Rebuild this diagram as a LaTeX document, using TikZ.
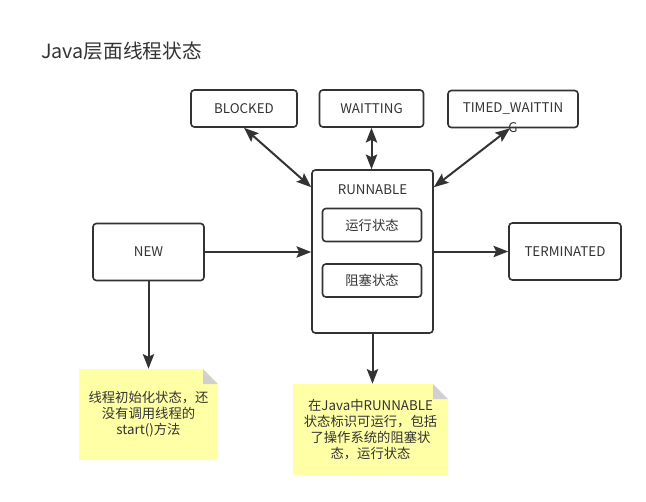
\documentclass[tikz,border=0pt]{standalone}
\usepackage{fontspec}
\setmainfont{Noto Sans CJK SC}
\usetikzlibrary{arrows.meta}
\definecolor{mydarkgray}{RGB}{51,51,51}
\definecolor{mynoteyellow}{RGB}{255,255,166}
\definecolor{myfoldgray}{RGB}{208,208,208}
\newcommand{\pxu}{0.75pt}
\newcommand{\foldsize}{11.25pt}
\tikzset{
    common/.style={draw=mydarkgray, line width=1.2pt, rounded corners=2.5pt, text=mydarkgray,
        font=\fontsize{10}{12}\selectfont, inner sep=0pt},
    state/.style={common, minimum width=#1*\pxu, minimum height=37*\pxu},
    bigstate/.style={common, minimum width=111*\pxu, minimum height=57*\pxu},
    sub/.style={common, minimum width=99*\pxu, minimum height=33*\pxu},
    note/.style={text=mydarkgray, font=\fontsize{10}{12}\selectfont, align=center,
        inner sep=0pt, minimum width=#1*\pxu, minimum height=91*\pxu,
        path picture={
            \fill[mynoteyellow]
                (path picture bounding box.north west)
                -- ([xshift=-\foldsize]path picture bounding box.north east)
                -- ([yshift=-\foldsize]path picture bounding box.north east)
                -- (path picture bounding box.south east)
                -- (path picture bounding box.south west) -- cycle;
            \fill[myfoldgray]
                ([xshift=-\foldsize]path picture bounding box.north east)
                -- ([xshift=-\foldsize, yshift=-\foldsize]path picture bounding box.north east)
                -- ([yshift=-\foldsize]path picture bounding box.north east) -- cycle;
        }
    },
    link/.style={draw=mydarkgray, line width=1.5pt, -{Stealth[length=11pt, width=8.5pt, inset=2pt]}},
    duallink/.style={link, {Stealth[length=11pt, width=8.5pt, inset=2pt]}-{Stealth[length=11pt, width=8.5pt, inset=2pt]}}
}
\begin{document}
\begin{tikzpicture}[x=0.75pt, y=-0.75pt]
        \useasboundingbox (0,0) rectangle (646,501);

        \node[anchor=west, inner sep=0pt, text=mydarkgray, font=\fontsize{14.75}{16}\selectfont] (TITLE) at (41,51) {Java层面线程状态};

        \node[state=106] (BLOCKED) at (244,108.5) {BLOCKED};
        \node[state=104] (WAIT) at (371.5,108.5) {WAITTING};
        \node[state=130, label={[anchor=center, inner sep=0pt, text=mydarkgray, font=\fontsize{10}{12}\selectfont, yshift=0.5pt]south:G}] (TIMED) at (513,109) {TIMED\_WAITTIN};

        \node[common, minimum width=121*\pxu, minimum height=163*\pxu,
            label={[anchor=center, yshift=-15pt, text=mydarkgray, font=\fontsize{10}{12}\selectfont]north:RUNNABLE}] (RUNNABLE) at (372.5,251.5) {};
        \node[sub] (RUNNING) at (372,225) {运行状态};
        \node[sub] (BLOCKING) at (372,280.5) {阻塞状态};

        \node[bigstate] (NEW) at (148.5,252) {NEW};
        \node[bigstate, minimum width=112*\pxu] (TERM) at (565,251.5) {TERMINATED};

        \node[note=139] (NOTENEW) at (148.5,414.5) {线程初始化状态，还\\没有调用线程的\\start()方法};
        \node[note=155] (NOTERUN) at (370.5,429.5) {在Java中RUNNABLE\\状态标识可运行，包括\\了操作系统的阻塞状\\态，运行状态};

        \draw[duallink] (BLOCKED.south) -- ([yshift=-13.5pt]RUNNABLE.north west);
        \draw[duallink] (WAIT.south) -- (WAIT.south |- RUNNABLE.north);
        \draw[duallink] ([xshift=-2.25pt]TIMED.south) -- ([yshift=-13.5pt]RUNNABLE.north east);
        \draw[link] (NEW.east) -- (NEW.east -| RUNNABLE.west);
        \draw[link] (RUNNABLE.east |- TERM.west) -- (TERM.west);
        \draw[link] (NEW.south) -- (NOTENEW.north);
        \draw[link] (RUNNABLE.south) -- (RUNNABLE.south |- NOTERUN.north);
    \end{tikzpicture}
\end{document}
